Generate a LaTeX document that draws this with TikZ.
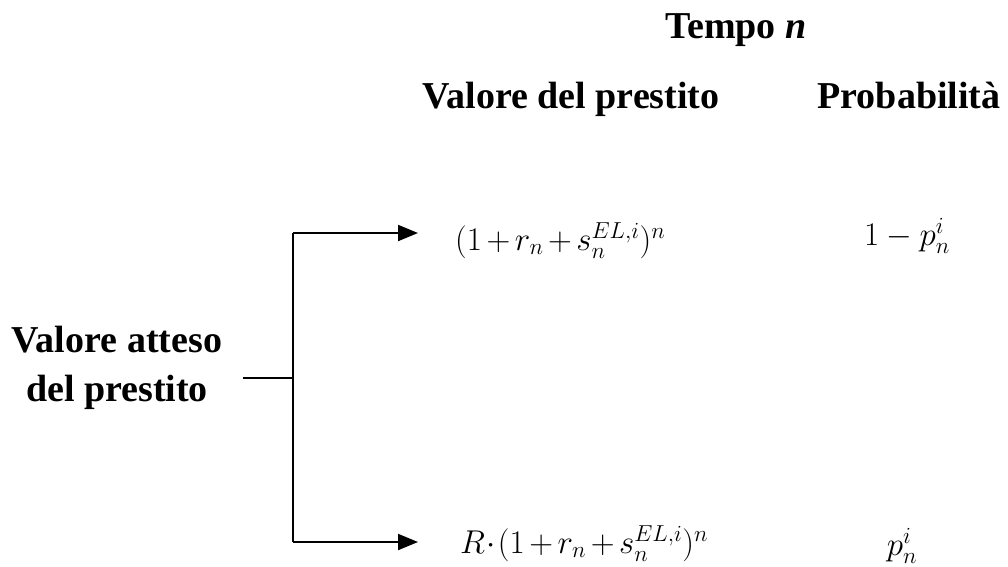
\documentclass[tikz,border=0pt]{standalone}
\usepackage{fix-cm}
\usepackage{fontspec}
\setmainfont{Liberation Serif}
\usetikzlibrary{arrows.meta}
\newcommand{\tp}{\mskip-1.5mu+\mskip-1.5mu}
\begin{document}
\begin{tikzpicture}[x=1pt,y=-1pt,
  lbl/.style={font=\fontsize{38}{49}\selectfont\bfseries, inner sep=0pt},
  frm/.style={font=\fontsize{33}{40}\selectfont, inner sep=0pt},
  conn/.style={line width=2pt},
  arr/.style={conn,-{Triangle[length=20pt,width=16pt]}}]
\useasboundingbox (0,0) rectangle (1008,566);
% headers
\node[lbl,anchor=base] (tempo) at (736,38) {Tempo \textit{n}};
\node[lbl,anchor=base] (vp) at (571,108) {Valore del prestito};
\node[lbl,anchor=base] (prob) at (909,108) {Probabilità};
% left label
\node[lbl,align=center] (src) at (117,368) {Valore atteso\\del prestito};
% outcomes
\node[frm,anchor=base west] (v1) at (455,250) {$(1\tp r_n\tp s_n^{EL,i})^n$};
\node[frm,anchor=base] (p1) at (907,245) {$1-p_n^i$};
\node[frm,anchor=base west] (v2) at (460,553) {$R\mskip1mu{\cdot}\mskip1mu(1\tp r_n\tp s_n^{EL,i})^n$};
\node[frm,anchor=base] (p2) at (902,555) {$p_n^i$};
% connectors
\coordinate (s0) at (243,378);
\coordinate (j) at (293,378);
\coordinate (t) at (293,233);
\coordinate (b) at (293,542);
\draw[conn] (s0) -- (j);
\draw[conn] (t) -- (b);
\draw[arr] (t) -- ([xshift=-37pt]v1.west |- t);
\draw[arr] (b) -- ([xshift=-42pt]v2.west |- b);
\end{tikzpicture}
\end{document}
